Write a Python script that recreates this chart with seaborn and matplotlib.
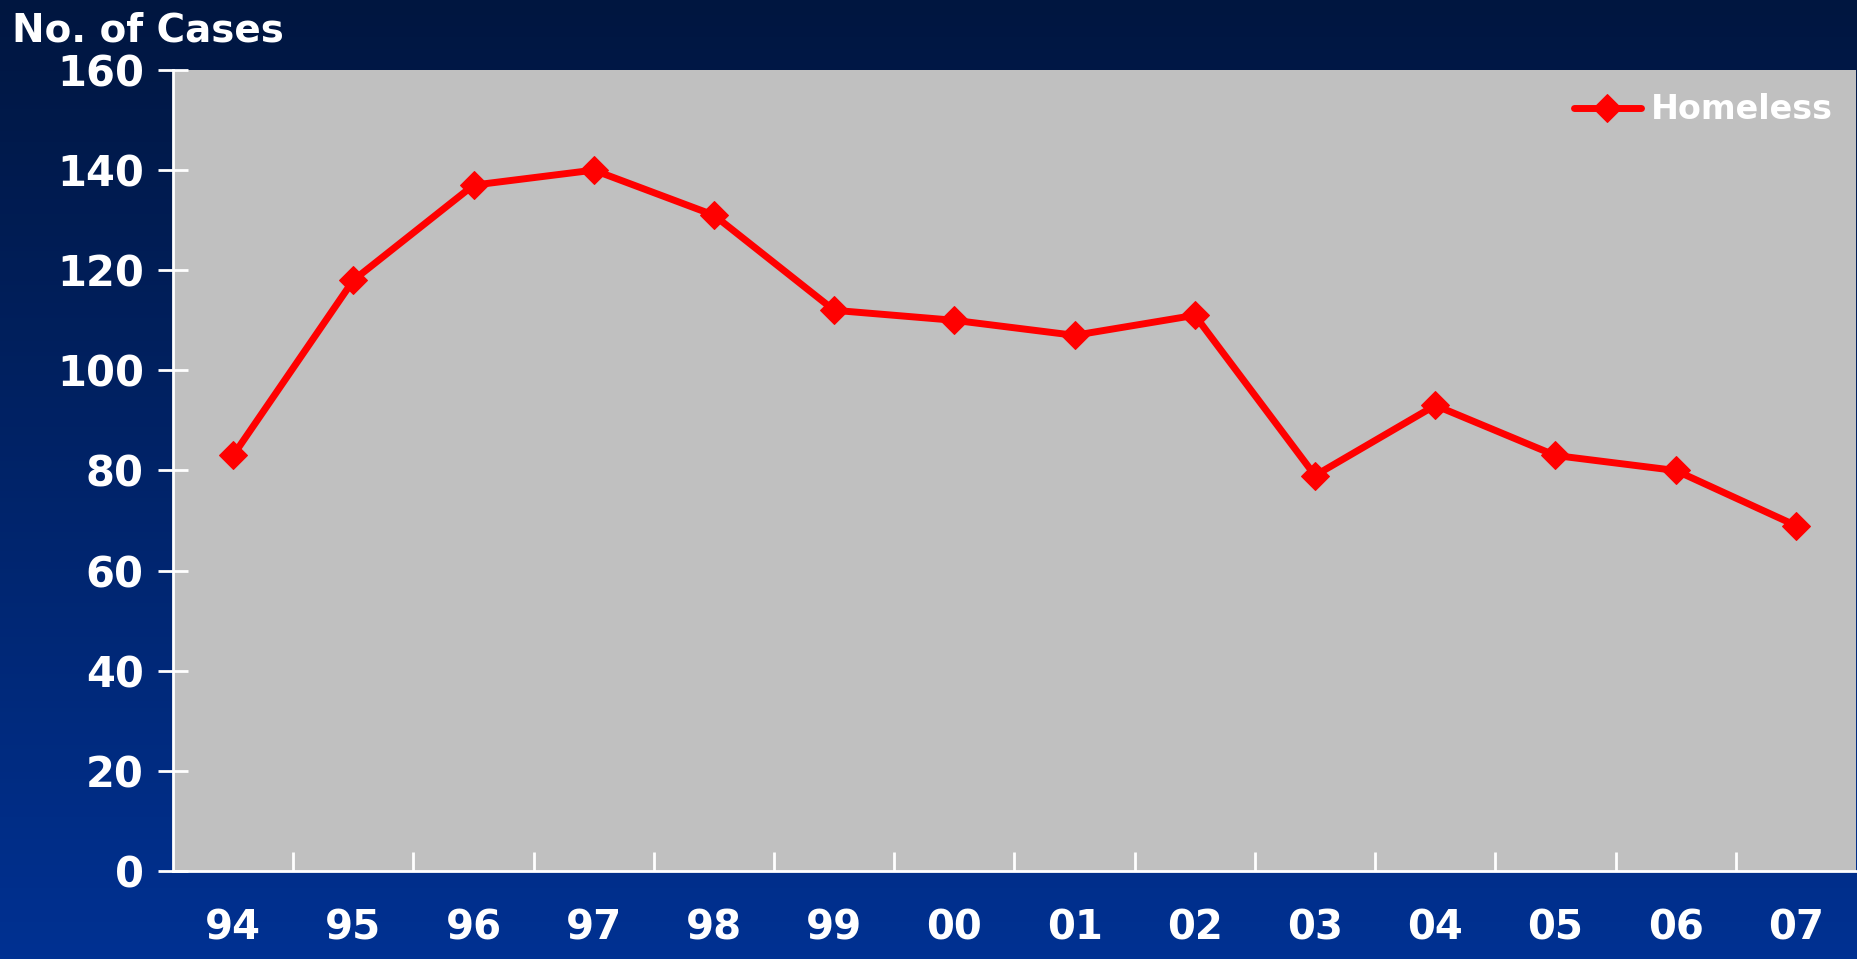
import seaborn as sns
import pandas as pd
import numpy as np
import matplotlib.pyplot as plt

# Homeless cases per year
years = ["94", "95", "96", "97", "98", "99", "00", "01", "02", "03", "04", "05", "06", "07"]
homeless = [83, 118, 137, 140, 131, 112, 110, 107, 111, 79, 93, 83, 80, 69]
yticks = [0, 20, 40, 60, 80, 100, 120, 140, 160]

df = pd.DataFrame({"year": years, "cases": homeless})

sns.set_style("white")
plt.rcParams['font.family'] = ['DejaVu Sans']
plt.rcParams['font.weight'] = 'bold'

fig = plt.figure(figsize=(18.58, 9.59), dpi=100)

# navy -> blue gradient background
bg = fig.add_axes([0, 0, 1, 1], zorder=-10)
grad = np.linspace(0, 1, 256).reshape(-1, 1)
top = np.array([0x00, 0x16, 0x40]) / 255
bot = np.array([0x00, 0x31, 0x92]) / 255
img = top + (bot - top) * grad[:, :, None]
bg.imshow(img, aspect='auto', extent=[0, 1, 0, 1])
bg.axis('off')

ax = fig.add_axes([173/1858, 1 - 871/959, (1856-173)/1858, (871-70)/959])
ax.set_facecolor('#C0C0C0')

sns.lineplot(data=df, x="year", y="cases", ax=ax, color='#FF0000', linewidth=5,
             marker='D', markersize=14, markeredgecolor='#FF0000', sort=False,
             label="Homeless")

ax.set_xlim(-0.5, 13.5)
ax.set_ylim(0, 160)
ax.set_yticks(yticks)
ax.set_xlabel("")
ax.set_ylabel("")

for s in ['top', 'right']:
    ax.spines[s].set_visible(False)
for s in ['left', 'bottom']:
    ax.spines[s].set_color('white')
    ax.spines[s].set_linewidth(2)

ax.tick_params(axis='y', left=True, direction='inout', length=22, width=2, color='white',
               labelcolor='white', labelsize=30, pad=10)
ax.set_xticks(np.arange(0.5, 13.5, 1), minor=True)
ax.tick_params(axis='x', which='minor', bottom=True, direction='in', length=14, width=2, color='white')
ax.tick_params(axis='x', which='major', bottom=False, length=0, labelcolor='white', labelsize=29, pad=27)
for t in ax.get_xticklabels() + ax.get_yticklabels():
    t.set_fontweight('bold')

leg = ax.legend(loc='upper right', frameon=False, fontsize=24, handlelength=2.0,
                handletextpad=0.3, borderaxespad=0.3)
for t in leg.get_texts():
    t.set_color('white')
    t.set_fontweight('bold')

fig.text(12/1858, 1 - 30/959, "No. of Cases", color='white', fontsize=28,
         fontweight='bold', ha='left', va='center')

fig.savefig("out.png", dpi=100)
